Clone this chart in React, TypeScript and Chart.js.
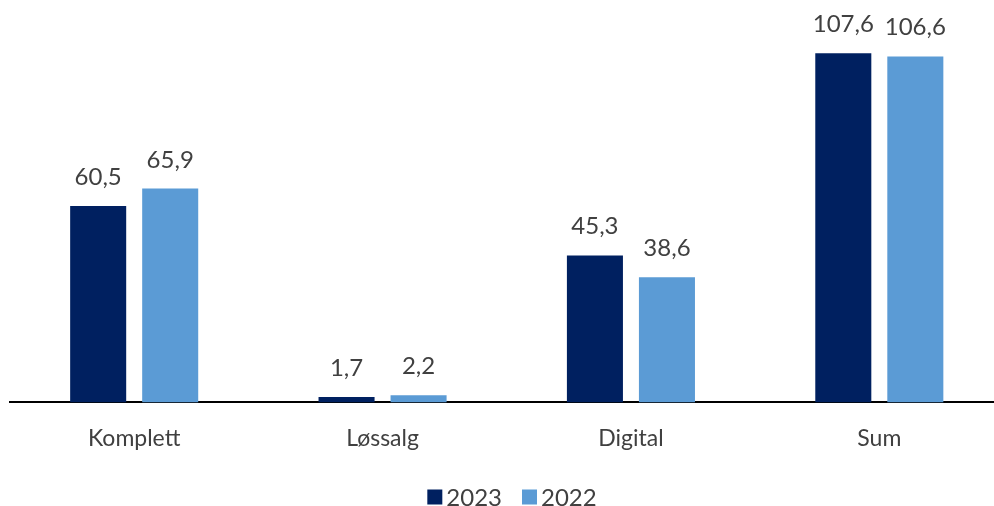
import React, { useEffect, useRef } from "react";
import { Chart, registerables } from "chart.js";

Chart.register(...registerables);

const categories = ["Komplett", "Løssalg", "Digital", "Sum"];
const series2023 = [60.5, 1.7, 45.3, 107.6];
const series2022 = [65.9, 2.2, 38.6, 106.6];
const seriesLabels = ["2023", "2022"];
const seriesColors = ["#002060", "#5B9BD5"];

const FONT = "Lato, 'Open Sans', sans-serif";
const TEXT_COLOR = "#404040";

const dataLabels = {
  id: "dataLabels",
  afterDatasetsDraw(chart: any) {
    const { ctx } = chart;
    ctx.save();
    ctx.font = `24px ${FONT}`;
    ctx.fillStyle = TEXT_COLOR;
    ctx.textAlign = "center";
    ctx.textBaseline = "alphabetic";
    chart.data.datasets.forEach((ds: any, i: number) => {
      const meta = chart.getDatasetMeta(i);
      meta.data.forEach((bar: any, j: number) => {
        const v = ds.data[j] as number;
        ctx.fillText(v.toFixed(1).replace(".", ","), bar.x, bar.y - 21);
      });
    });
    ctx.restore();
  },
};

// Legend drawn close to the reference (small gap between swatch and text)
const customLegend = {
  id: "customLegend",
  afterDraw(chart: any) {
    const { ctx } = chart;
    const box = 15;
    const gapBoxText = 4;
    const gapItems = 20;
    const centerX = 512;
    const centerY = 497;
    ctx.save();
    ctx.font = `24px ${FONT}`;
    const items = chart.data.datasets.map((ds: any) => ({
      label: ds.label as string,
      color: ds.backgroundColor as string,
      w: ctx.measureText(ds.label).width,
    }));
    const total =
      items.reduce((s: number, it: any) => s + box + gapBoxText + it.w, 0) + gapItems * (items.length - 1);
    let x = centerX - total / 2;
    items.forEach((it: any) => {
      ctx.fillStyle = it.color;
      ctx.fillRect(x, centerY - box / 2, box, box);
      x += box + gapBoxText;
      ctx.fillStyle = TEXT_COLOR;
      ctx.textAlign = "left";
      ctx.textBaseline = "middle";
      ctx.fillText(it.label, x, centerY + 1);
      x += it.w + gapItems;
    });
    ctx.restore();
  },
};

export default function App() {
  const ref = useRef<HTMLCanvasElement>(null);
  useEffect(() => {
    if (!ref.current) return;
    const chart = new Chart(ref.current, {
      type: "bar",
      data: {
        labels: categories,
        datasets: [
          { label: seriesLabels[0], data: series2023, backgroundColor: seriesColors[0], barPercentage: 0.778, categoryPercentage: 0.58 },
          { label: seriesLabels[1], data: series2022, backgroundColor: seriesColors[1], barPercentage: 0.778, categoryPercentage: 0.58 },
        ],
      },
      options: {
        animation: false,
        responsive: false,
        maintainAspectRatio: false,
        layout: { padding: { left: 10, right: 4.5, top: 13, bottom: 40 } },
        scales: {
          x: {
            grid: { display: false },
            border: { display: true, color: "#000000", width: 2 },
            ticks: { color: TEXT_COLOR, font: { family: FONT, size: 23 }, padding: 14 },
          },
          y: { display: false, min: 0, max: 120 },
        },
        plugins: {
          legend: { display: false },
          tooltip: { enabled: false },
        },
      },
      plugins: [dataLabels, customLegend],
    });
    return () => chart.destroy();
  }, []);
  return (
    <div style={{ position: "fixed", left: 0, top: 0, width: 994, height: 506, overflow: "hidden", background: "#fff" }}>
      <canvas ref={ref} width={1008} height={506} style={{ display: "block" }} />
    </div>
  );
}
